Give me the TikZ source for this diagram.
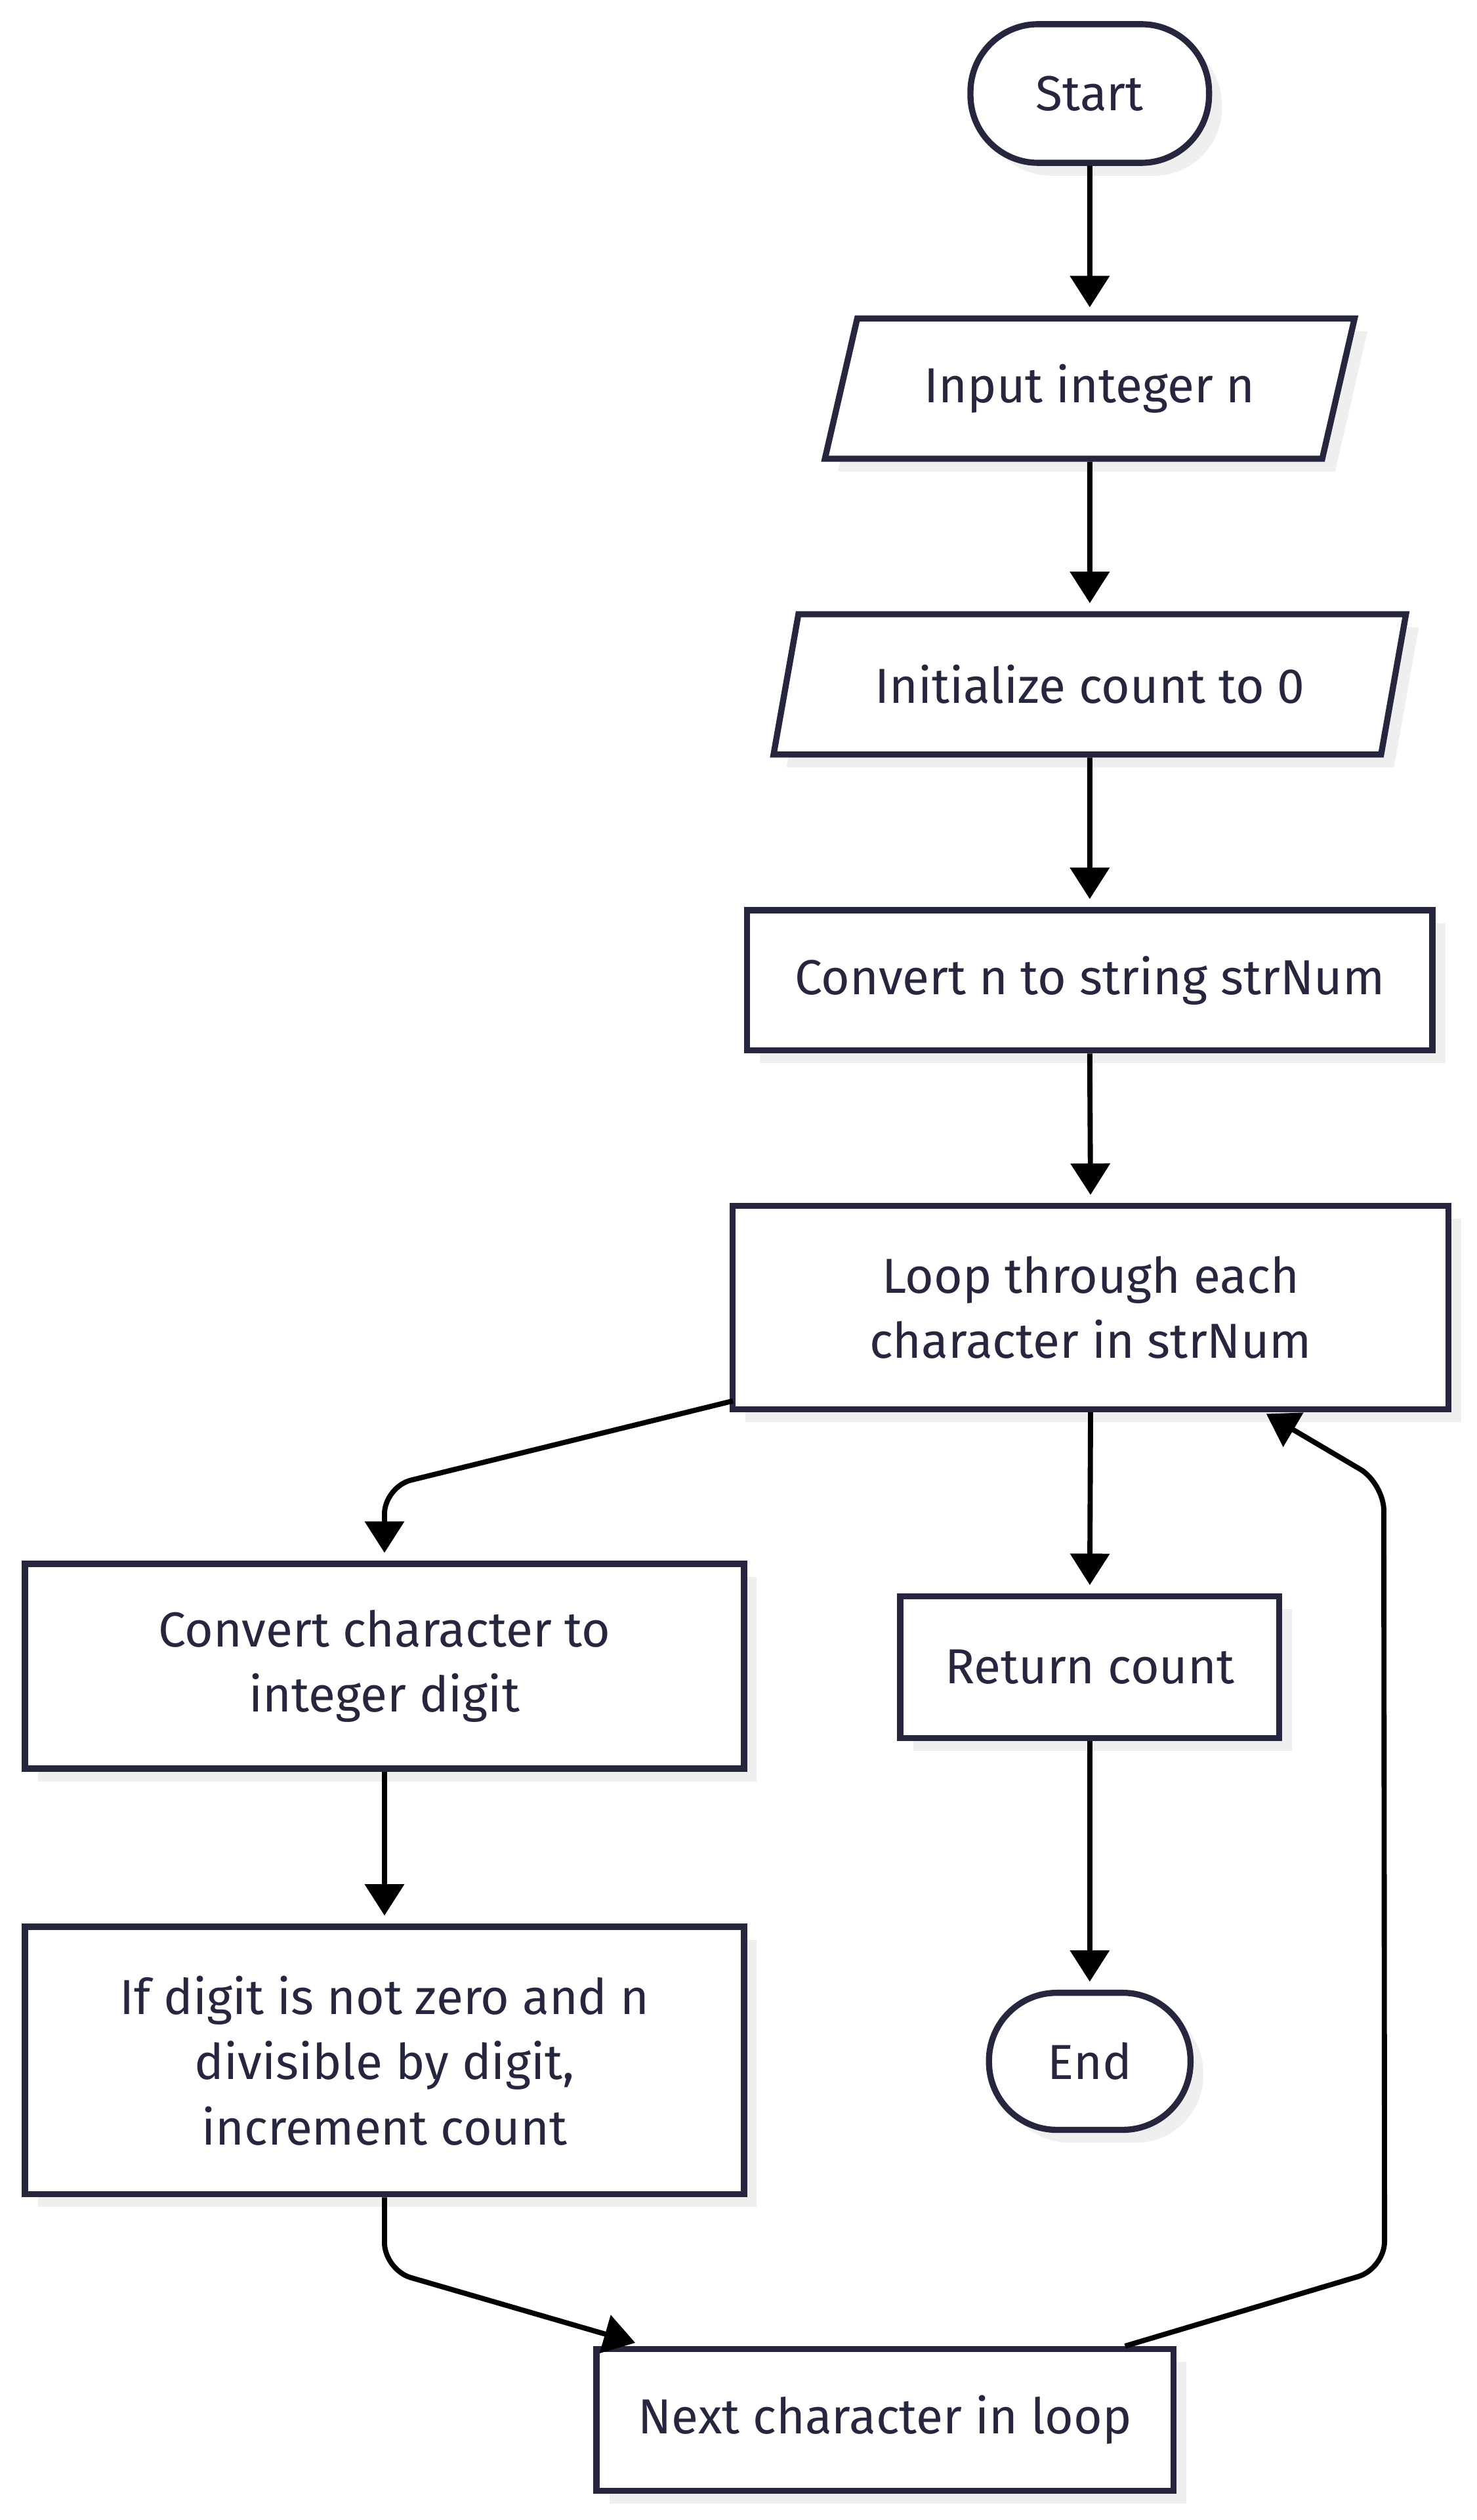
\documentclass[tikz,border=0pt]{standalone}
\usepackage{fontspec}
\setmainfont{Fira Sans}
\usetikzlibrary{shapes.geometric,shadows,arrows.meta,calc}
\definecolor{ink}{RGB}{38,38,62}
\definecolor{shade}{RGB}{239,239,239}
\begin{document}
\begin{tikzpicture}[x=1pt,y=-1pt,
  txt/.style={font=\fontsize{30.5}{40.5}\selectfont, text=ink, align=center},
  base/.style={txt, draw=ink, line width=3.8pt, fill=white, inner sep=0pt,
    drop shadow={shadow xshift=8pt, shadow yshift=-8pt, fill=shade, opacity=1}},
  boxn/.style={base, rectangle},
  term/.style={base, rectangle, rounded corners=42pt},
  para/.style={base, trapezium, trapezium stretches=true,
    trapezium left angle=64.77, trapezium right angle=115.23},
  conn/.style={draw=black, line width=3.2pt, rounded corners=17pt,
    -{Triangle[length=19.5pt,width=24pt]}},
  vconn/.style={conn, shorten >=5pt}
]
\useasboundingbox (0,0) rectangle (916.2,1563);

\node[term, minimum width=148pt, minimum height=86pt] (start) at (676,58) {Start};
\node[para, minimum width=329pt, minimum height=87pt] (in1) at (676,241) {Input integer n};
\node[para, minimum width=393pt, minimum height=87pt] (in2) at (676,424.5) {Initialize count to 0};
\node[boxn, minimum width=425pt, minimum height=87pt] (conv) at (676,608) {Convert n to string strNum};
\node[boxn, minimum width=444pt, minimum height=126pt] (loop) at (676.5,811) {Loop through each\\character in strNum};
\node[boxn, minimum width=446pt, minimum height=127pt] (cc) at (238.5,1033.5) {Convert character to\\integer digit};
\node[boxn, minimum width=235pt, minimum height=88pt] (ret) at (676,1034) {Return count};
\node[boxn, minimum width=446pt, minimum height=166pt] (ifd) at (238.5,1278) {If digit is not zero and n\\divisible by digit,\\increment count};
\node[term, minimum width=125pt, minimum height=85pt] (end) at (676,1278.5) {End};
\node[boxn, minimum width=358pt, minimum height=88pt] (next) at (549,1501) {Next character in loop};

\coordinate (a5) at ($(loop.south west)+(2,-7)$);
\coordinate (c5) at ($(cc.north)+(0,-46)$);
\coordinate (c9) at ($(ifd.south)+(0,45)$);
\coordinate (t9) at ($(next.north west)+(26,-2)$);
\coordinate (a10) at ($(next.north east)+(-32,0)$);
\coordinate (b1) at ($(next.north east)+(129,-48)$);
\coordinate (b2) at ($(loop.south east)+(-42,44)$);
\coordinate (t10) at ($(loop.south)+(109,1)$);

\draw[vconn] (start.south) -- (in1.north);
\draw[vconn] (in1.south) -- (in2.north);
\draw[vconn] (in2.south) -- (conv.north);
\draw[vconn] (conv.south) -- (loop.north);
\draw[vconn] (a5) -- (c5) -- (cc.north);
\draw[vconn] (loop.south) -- (ret.north);
\draw[vconn] (cc.south) -- (ifd.north);
\draw[conn] (ifd.south) -- (c9) -- (t9);
\draw[conn] (a10) -- (b1) -- (b2) -- (t10);
\draw[vconn] (ret.south) -- (end.north);
\end{tikzpicture}
\end{document}
